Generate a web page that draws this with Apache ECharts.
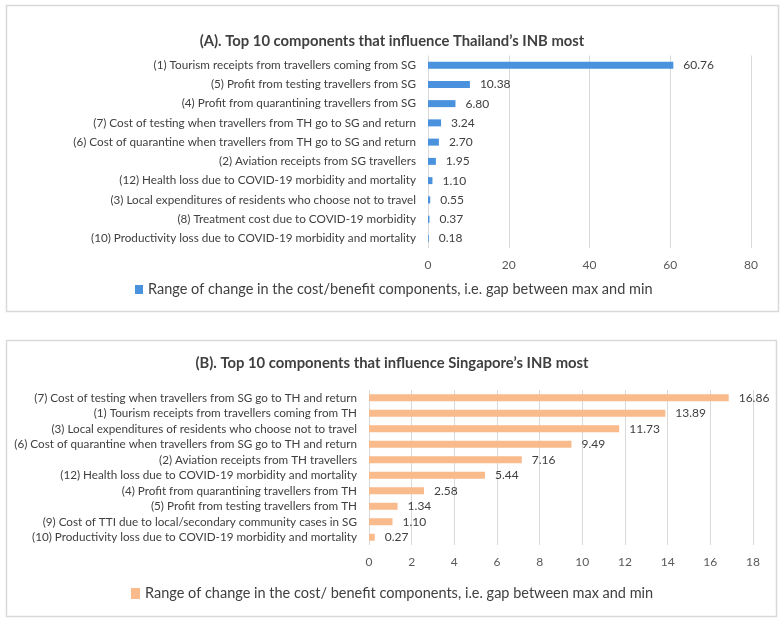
<!DOCTYPE html>
<html lang="en">
<head>
    <meta charset="UTF-8">
    <title>INB components</title>
    <style>
        body { margin: 0; background: #fff; }
    </style>
</head>
<body>
<div id="container" style="width:784px;height:625px"></div>

<script type="text/javascript" src="https://cdn.jsdelivr.net/npm/echarts@6/dist/echarts.min.js"></script>
<script type="text/javascript">
    // panel A - Thailand
    var catsA = [
        '(1) Tourism receipts from travellers coming from SG',
        '(5) Profit from testing travellers from SG',
        '(4) Profit from quarantining travellers from SG',
        '(7) Cost of testing when travellers from TH go to SG and return',
        '(6) Cost of quarantine when travellers from TH go to SG and return',
        '(2) Aviation receipts from SG travellers',
        '(12) Health loss due to COVID-19 morbidity and mortality',
        '(3) Local expenditures of residents who choose not to travel',
        '(8) Treatment cost due to COVID-19 morbidity',
        '(10) Productivity loss due to COVID-19 morbidity and mortality'
    ];
    var valsA = [60.76, 10.38, 6.80, 3.24, 2.70, 1.95, 1.10, 0.55, 0.37, 0.18];

    // panel B - Singapore
    var catsB = [
        '(7) Cost of testing when travellers from SG go to TH and return',
        '(1) Tourism receipts from travellers coming from TH',
        '(3) Local expenditures of residents who choose not to travel',
        '(6) Cost of quarantine when travellers from SG go to TH and return',
        '(2) Aviation receipts from TH travellers',
        '(12) Health loss due to COVID-19 morbidity and mortality',
        '(4) Profit from quarantining travellers from TH',
        '(5) Profit from testing travellers from TH',
        '(9) Cost of TTI due to local/secondary community cases in SG',
        '(10) Productivity loss due to COVID-19 morbidity and mortality'
    ];
    var valsB = [16.86, 13.89, 11.73, 9.49, 7.16, 5.44, 2.58, 1.34, 1.10, 0.27];

    var titleA = '(A). Top 10 components that influence Thailand\u2019s INB most';
    var titleB = '(B). Top 10 components that influence Singapore\u2019s INB most';
    var nameA = 'Range of change in the cost/benefit components, i.e. gap between max and min';
    var nameB = 'Range of change in the cost/ benefit components, i.e. gap between max and min';

    var fontFam = 'Lato, "Noto Sans", sans-serif';
    var textColor = '#404040';
    var tickColor = '#595959';
    var gridColor = '#d9d9d9';
    var blueColor = '#4a92de';
    var orangeColor = '#f9ba8c';

    var myChart = echarts.init(document.getElementById('container'));

    function valueLabel(p) {
        return p.value.toFixed(2);
    }

    var option = {
        animation: false,
        textStyle: { fontFamily: fontFam },
        graphic: [
            { type: 'rect', shape: { x: 6.5, y: 5.5, width: 772, height: 306 },
              style: { fill: 'none', stroke: '#d9d9d9', lineWidth: 1.5 } },
            { type: 'rect', shape: { x: 6.5, y: 340.5, width: 770, height: 276 },
              style: { fill: 'none', stroke: '#d9d9d9', lineWidth: 1.5 } }
        ],
        title: [
            { text: titleA, left: 'center', top: 29,
              textStyle: { fontFamily: fontFam, fontSize: 14.8, fontWeight: 'bold', color: textColor } },
            { text: titleB, left: 'center', top: 351,
              textStyle: { fontFamily: fontFam, fontSize: 14.8, fontWeight: 'bold', color: textColor } }
        ],
        legend: [
            { data: [nameA], left: 130, top: 277, icon: 'rect', itemWidth: 8, itemHeight: 9, itemGap: 4,
              textStyle: { fontFamily: fontFam, fontSize: 14.5, color: textColor } },
            { data: [nameB], left: 126, top: 581, icon: 'rect', itemWidth: 9, itemHeight: 11, itemGap: 4,
              textStyle: { fontFamily: fontFam, fontSize: 14.5, color: textColor } }
        ],
        grid: [
            { left: 428, right: 33, top: 55.5, height: 192.5, outerBoundsMode: 'none' },
            { left: 369, right: 31, top: 390, height: 155, outerBoundsMode: 'none' }
        ],
        xAxis: [
            { gridIndex: 0, type: 'value', min: 0, max: 80, interval: 20,
              axisLine: { show: false }, axisTick: { show: false },
              axisLabel: { color: tickColor, fontSize: 12, margin: 11 },
              splitLine: { lineStyle: { color: gridColor } } },
            { gridIndex: 1, type: 'value', min: 0, max: 18, interval: 2,
              axisLine: { show: false }, axisTick: { show: false },
              axisLabel: { color: tickColor, fontSize: 12, margin: 11 },
              splitLine: { lineStyle: { color: gridColor } } }
        ],
        yAxis: [
            { gridIndex: 0, type: 'category', data: catsA, inverse: true,
              axisLine: { show: false }, axisTick: { show: false },
              axisLabel: { color: textColor, fontSize: 11.7, margin: 12, interval: 0 } },
            { gridIndex: 1, type: 'category', data: catsB, inverse: true,
              axisLine: { show: false }, axisTick: { show: false },
              axisLabel: { color: textColor, fontSize: 11.7, margin: 12, interval: 0 } }
        ],
        series: [
            { name: nameA, type: 'bar', xAxisIndex: 0, yAxisIndex: 0, data: valsA,
              barWidth: 7, itemStyle: { color: blueColor },
              label: { show: true, position: 'right', distance: 10, formatter: valueLabel,
                       color: textColor, fontSize: 12 } },
            { name: nameB, type: 'bar', xAxisIndex: 1, yAxisIndex: 1, data: valsB,
              barWidth: 7, itemStyle: { color: orangeColor },
              label: { show: true, position: 'right', distance: 10, formatter: valueLabel,
                       color: textColor, fontSize: 12 } }
        ]
    };

    myChart.setOption(option);
</script>
</body>
</html>
